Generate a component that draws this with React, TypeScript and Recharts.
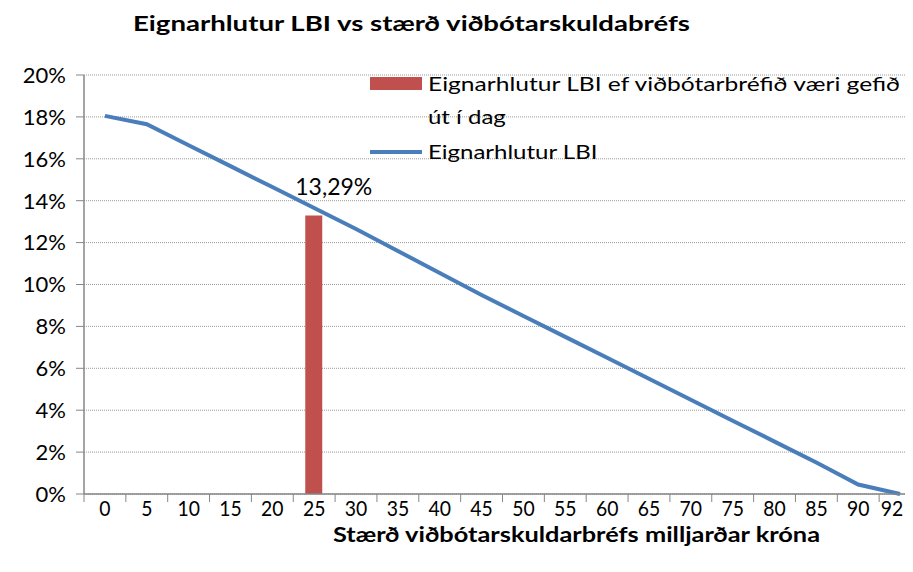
import React from 'react';
import { ComposedChart, Bar, Line, XAxis, YAxis, CartesianGrid, LabelList } from 'recharts';

const categories = ['0', '5', '10', '15', '20', '25', '30', '35', '40', '45', '50', '55', '60', '65', '70', '75', '80', '85', '90', '92'];
const lbiShare = [18.05, 17.65, 16.65, 15.65, 14.65, 13.65, 12.65, 11.6, 10.55, 9.5, 8.5, 7.5, 6.5, 5.5, 4.5, 3.5, 2.5, 1.5, 0.45, 0];
const todayShare: (number | null)[] = [null, null, null, null, null, 13.29, null, null, null, null, null, null, null, null, null, null, null, null, null, null];
const yTicks = [0, 2, 4, 6, 8, 10, 12, 14, 16, 18, 20];

const title = 'Eignarhlutur LBI vs stærð viðbótarskuldabréfs';
const xTitle = 'Stærð viðbótarskuldarbréfs milljarðar króna';
const barName = 'Eignarhlutur LBI ef viðbótarbréfið væri gefið út í dag';
const barNameLines = ['Eignarhlutur LBI ef viðbótarbréfið væri gefið', 'út í dag'];
const lineName = 'Eignarhlutur LBI';

const data = categories.map((c, i) => ({ cat: c, lbi: lbiShare[i], today: todayShare[i] }));

const FONT = "Lato, Carlito, 'Liberation Sans', Arial, sans-serif";
const W = 905;
const H = 556;
const Y_W = 76;
const M_RIGHT = -8;
const HALF_BAND = (W - M_RIGHT - Y_W) / categories.length / 2;
const VISIBLE_RIGHT = 895;
const RED = '#C0504D';
const BLUE = '#4A7EBB';
const AXIS = '#868686';
const LEGEND_SX = 1.2;

const XTick = (props: any) => {
  const { x, y, payload } = props;
  const lx = Math.min(x, VISIBLE_RIGHT - 11);
  return (
    <g>
      <line x1={x - HALF_BAND} x2={x - HALF_BAND} y1={y} y2={y + 8} stroke={AXIS} strokeWidth={1} />
      <text
        transform={`translate(${lx},${y + 22}) scale(0.88,1)`}
        textAnchor="middle"
        fontSize={22}
        fontFamily={FONT}
        fill="#000"
      >
        {payload.value}
      </text>
    </g>
  );
};

const BarLabel = (props: any) => {
  const { x, y, width, value } = props;
  if (value == null) return null;
  return (
    <text x={x + width / 2 + 20} y={y - 21} textAnchor="middle" fontSize={23} fontFamily={FONT} fill="#000">
      {String(value).replace('.', ',') + '%'}
    </text>
  );
};

export default function App() {
  return (
    <div style={{ position: 'relative', width: W, height: H, background: '#fff' }}>
      <ComposedChart width={W} height={H} data={data} margin={{ top: 67, right: M_RIGHT, left: 0, bottom: 0 }}>
        <CartesianGrid vertical={false} stroke="#9a9a9a" strokeDasharray="1 1" />
        <XAxis
          dataKey="cat"
          height={70}
          tickSize={0}
          tickMargin={0}
          tickLine={false}
          interval={0}
          axisLine={{ stroke: AXIS, strokeWidth: 1.5 }}
          tick={<XTick />}
          label={{
            content: (p: any) => {
              const vb = p.viewBox;
              return (
                <text
                  x={vb.x + vb.width / 2 + 74}
                  y={vb.y + 48}
                  textAnchor="middle"
                  fontSize={21}
                  fontWeight="bold"
                  fontFamily={FONT}
                  fill="#000"
                  textLength={487}
                  lengthAdjust="spacingAndGlyphs"
                >
                  {xTitle}
                </text>
              );
            },
          }}
        />
        <YAxis
          width={Y_W}
          domain={[0, 20]}
          ticks={yTicks}
          interval={0}
          tickFormatter={(v: number) => `${v}%`}
          tickSize={8}
          tickMargin={10}
          tickLine={{ stroke: AXIS }}
          axisLine={{ stroke: AXIS, strokeWidth: 1.5 }}
          tick={{ fontSize: 22, fontFamily: FONT, fill: '#000' }}
        />
        <Bar dataKey="today" name={barName} fill={RED} barSize={17} isAnimationActive={false}>
          <LabelList dataKey="today" content={<BarLabel />} />
        </Bar>
        <Line
          type="linear"
          dataKey="lbi"
          name={lineName}
          stroke={BLUE}
          strokeWidth={4}
          dot={false}
          activeDot={false}
          isAnimationActive={false}
        />
      </ComposedChart>
      <svg
        width={W}
        height={H}
        style={{ position: 'absolute', left: 0, top: 0, pointerEvents: 'none' }}
        fontFamily={FONT}
      >
        <text x={125} y={23} fontSize={21} fontWeight="bold" fill="#000" textLength={557} lengthAdjust="spacingAndGlyphs">
          {title}
        </text>
        <rect x={362} y={69} width={52} height={13} fill={RED} />
        <text x={420} y={83} fontSize={20} fill="#000" textLength={472} lengthAdjust="spacingAndGlyphs">
          {barNameLines[0]}
        </text>
        <text transform={`translate(420,116) scale(${LEGEND_SX},1)`} fontSize={20} fill="#000">
          {barNameLines[1]}
        </text>
        <line x1={362} x2={414} y1={144} y2={144} stroke={BLUE} strokeWidth={4} />
        <text transform={`translate(420,151) scale(${LEGEND_SX},1)`} fontSize={20} fill="#000">
          {lineName}
        </text>
      </svg>
    </div>
  );
}
